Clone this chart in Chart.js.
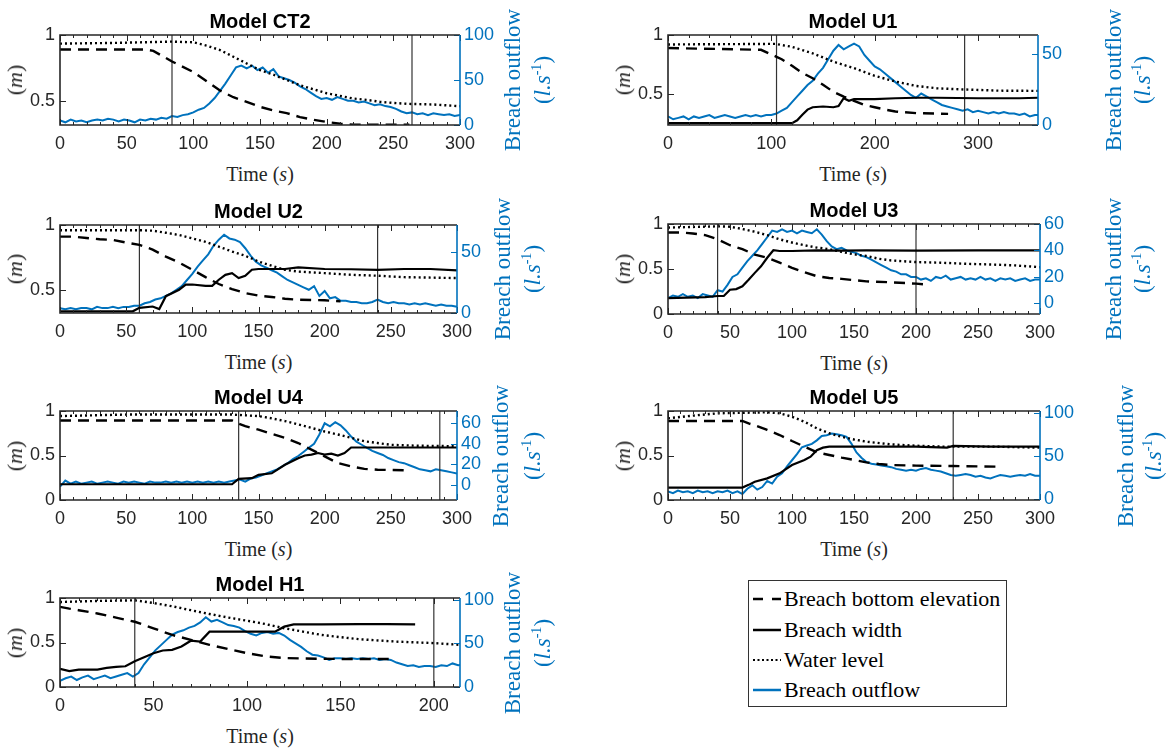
<!DOCTYPE html>
<html>
<head>
<meta charset="utf-8">
<script src="https://cdn.jsdelivr.net/npm/chart.js@4.4.1/dist/chart.umd.min.js"></script>
<style>
body { margin: 0; background: #fff; width: 1168px; height: 751px; position: relative; overflow: hidden; }
canvas { position: absolute; }
.lab { position: absolute; font-family: 'Liberation Serif', 'Times New Roman', serif; color: #262626;
       white-space: nowrap; line-height: 1; transform: translate(-50%, -50%); }
.rot { transform: translate(-50%, -50%) rotate(-90deg); }
.blue { color: #0072BD; }
#legend { position: absolute; left: 748px; top: 580px; width: 257px; height: 125px; border: 1.5px solid #333; }
#legend .row { position: absolute; left: 3px; height: 26px; display: flex; align-items: center;
               font-family: 'Liberation Serif', 'Times New Roman', serif; font-size: 22px; color: #000; white-space: nowrap; }
#legend svg { margin-right: 2px; }
</style>
</head>
<body>
<div id="legend"></div>
<script>
var BLUE = '#0072BD';
var INK = '#262626';
var TICKFONT = "'Liberation Sans', Arial, sans-serif";

// time bases of the outflow records
var t300 = [0,4,8,12,16,20,24,28,32,36,40,44,48,52,56,60,64,68,72,76,80,84,88,92,96,100,104,108,112,116,
    120,124,128,132,136,140,144,148,152,156,160,164,168,172,176,180,184,188,192,196,200,204,208,212,216,220,
    224,228,232,236,240,244,248,252,256,260,264,268,272,276,280,284,288,292,296,300];
var t360 = [0,5,10,15,20,25,30,35,40,45,50,55,60,65,70,75,80,85,90,95,100,105,110,115,120,125,130,135,140,145,
    150,155,160,165,170,175,180,185,190,195,200,205,210,215,220,225,230,235,240,245,250,255,260,265,270,275,
    280,285,290,295,300,305,310,315,320,325,330,335,340,345,350,355,360];
var t216 = [0,3,6,9,12,15,18,21,24,27,30,33,36,39,42,45,48,51,54,57,60,63,66,69,72,75,78,81,84,87,90,93,96,99,
    102,105,108,111,114,117,120,123,126,129,132,135,138,141,144,147,150,153,156,159,162,165,168,171,174,177,
    180,183,186,189,192,195,198,201,204,207,210,213,216];

// tick labels
var ticks300 = [0,50,100,150,200,250,300];
var ticks360 = [0,100,200,300];
var ticks216 = [0,50,100,150,200];
var ticksHi = [0.5,1];
var ticksFull = [0,0.5,1];
var flowTicks100 = [0,50,100];
var flowTicks50 = [0,50];
var flowTicks60 = [0,20,40,60];

var legendLabels = ['Breach bottom elevation', 'Breach width', 'Water level', 'Breach outflow'];

// Model CT2
var ct2DashT = [0,65,70,84,100,110,120,130,140,150,160,170,180,190,200,210,220,240,262];
var ct2Dash = [0.89,0.89,0.88,0.80,0.72,0.65,0.58,0.53,0.495,0.457,0.43,0.41,0.38,0.36,0.343,0.33,0.323,0.322,0.322];
var ct2DotT = [0,40,84,100,110,120,130,140,150,160,170,180,190,200,210,220,230,240,250,260,280,300];
var ct2Dot = [0.935,0.94,0.95,0.945,0.92,0.886,0.836,0.785,0.735,0.70,0.66,0.62,0.59,0.56,0.54,0.52,0.51,0.495,0.487,0.48,0.475,0.462];
var ct2Flow = [5,3,6,4,5,3,5,6,5,7, 6,4,6,5,3,6,5,7,6,8, 7,10,9,11,12,14,17,19,24,30,
    38,46,55,64,66,63,66,61,64,58, 62,54,52,50,47,43,40,36,32,29, 30,28,31,29,27,27,25,26,24,22,
    23,21,20,18,15,13,14,12,13,11, 13,12,11,12,10,11];
var ct2Events = [84, 264];

// Model U1
var u1DashT = [0,90,104,110,120,130,140,150,160,170,180,190,200,210,220,240,271];
var u1Dash = [0.89,0.875,0.82,0.795,0.74,0.68,0.635,0.58,0.52,0.48,0.444,0.41,0.39,0.37,0.354,0.34,0.334];
var u1WidthT = [0,120,125,130,135,140,150,160,165,170,175,180,200,220,240,260,300,340,358];
var u1Width = [0.255,0.255,0.28,0.326,0.37,0.39,0.396,0.39,0.40,0.466,0.444,0.458,0.458,0.466,0.47,0.47,0.466,0.466,0.47];
var u1DotT = [0,104,120,140,160,180,200,220,240,260,286,320,358];
var u1Dot = [0.92,0.925,0.90,0.845,0.775,0.72,0.655,0.607,0.57,0.55,0.54,0.53,0.528];
var u1Flow = [6,4,5,6,4,6,5,6,7,5, 6,7,6,5,6,7,6,7,6,7, 7,8,10,12,16,20,24,28,31,36,
    40,46,52,56,53,55,57,55,49,45, 41,39,36,33,30,27,24,21,19,22, 20,18,16,14,13,12,11,10,11,9,
    10,9,8,9,8,9,8,8,7,8, 6,7,7];
var u1Events = [105, 287];

// Model U2
var u2DashT = [0,10,20,30,40,50,60,70,80,90,100,110,120,130,140,150,160,170,180,200,212];
var u2Dash = [0.91,0.91,0.90,0.89,0.885,0.864,0.846,0.81,0.756,0.71,0.654,0.597,0.544,0.505,0.474,0.454,0.444,0.43,0.423,0.418,0.41];
var u2WidthT = [0,55,60,70,75,80,90,95,100,110,115,120,125,130,135,140,145,150,170,180,200,220,240,260,280,300];
var u2Width = [0.333,0.333,0.36,0.37,0.35,0.45,0.50,0.54,0.54,0.53,0.53,0.577,0.615,0.628,0.59,0.607,0.654,0.66,0.66,0.672,0.66,0.658,0.654,0.66,0.66,0.649];
var u2DotT = [0,60,70,80,90,100,110,120,130,140,150,160,170,180,200,220,240,260,300];
var u2Dot = [0.96,0.96,0.956,0.94,0.923,0.897,0.87,0.833,0.795,0.762,0.718,0.685,0.654,0.64,0.628,0.615,0.608,0.597,0.59];
var u2Flow = [4,3,4,3,4,4,3,5,4,4, 5,4,5,5,6,6,8,9,11,12, 14,16,19,22,27,32,38,43,48,55,
    60,64,61,60,58,53,47,42,39,37, 35,33,30,27,25,23,21,19,22,14, 18,12,13,10,10,9,9,8,8,9,
    11,9,8,9,8,8,7,8,7,8, 7,6,7,6,6,5];
var u2Events = [60, 240];

// Model U3
var u3DashT = [0,10,20,30,40,50,60,70,80,90,100,110,120,130,140,160,180,200,210];
var u3Dash = [0.906,0.906,0.895,0.876,0.83,0.764,0.72,0.66,0.625,0.57,0.513,0.464,0.42,0.40,0.39,0.363,0.352,0.337,0.326];
var u3WidthT = [0,30,40,45,50,55,60,65,70,75,80,85,90,100,120,140,160,200,250,300];
var u3Width = [0.176,0.187,0.2,0.2,0.27,0.277,0.307,0.38,0.457,0.53,0.625,0.708,0.70,0.70,0.708,0.705,0.708,0.705,0.708,0.708];
var u3DotT = [0,40,50,60,70,80,90,100,110,120,130,140,150,160,170,180,200,220,240,260,280,300];
var u3Dot = [0.96,0.974,0.97,0.944,0.914,0.876,0.83,0.794,0.764,0.738,0.72,0.69,0.663,0.644,0.614,0.595,0.577,0.57,0.558,0.55,0.54,0.52];
var u3Flow = [4,6,5,7,5,6,4,7,6,5, 10,9,14,20,22,27,32,36,40,45, 50,55,54,56,54,55,53,55,54,53,
    56,52,47,43,41,42,40,39,38,36, 35,33,31,29,27,25,24,22,22,20, 20,18,19,17,20,19,21,18,19,20,
    18,19,18,20,18,19,17,19,18,19, 17,18,19,17,18,18];
var u3Events = [40, 200];

// Model U4
var u4DashT = [0,130,135,140,150,160,170,180,190,200,210,220,230,240,265];
var u4Dash = [0.894,0.894,0.857,0.83,0.79,0.743,0.698,0.64,0.566,0.49,0.415,0.377,0.35,0.34,0.332];
var u4WidthT = [0,130,135,145,150,160,170,180,185,190,195,200,205,210,215,220,240,300];
var u4Width = [0.177,0.177,0.237,0.245,0.283,0.30,0.396,0.47,0.50,0.51,0.528,0.51,0.52,0.50,0.528,0.59,0.59,0.59];
var u4DotT = [0,50,130,150,160,170,180,190,200,210,220,230,240,250,270,300];
var u4Dot = [0.943,0.96,0.96,0.943,0.917,0.887,0.85,0.81,0.77,0.736,0.698,0.66,0.64,0.62,0.61,0.604];
var u4Flow = [-2,4,1,3,1,2,3,1,2,3, 2,1,3,2,3,2,1,3,2,2, 3,2,3,2,3,2,3,2,3,2,
    3,2,3,4,5,3,6,7,9,11, 13,15,18,21,25,28,32,36,40,49, 60,57,61,58,53,47,42,39,36,33,
    31,29,26,24,22,21,19,17,15,14, 13,15,14,13,12,11];
var u4Events = [135, 287];

// Model U5
var u5DashT = [0,60,65,70,80,90,100,110,120,130,140,150,160,170,180,200,230,265];
var u5Dash = [0.888,0.888,0.86,0.84,0.787,0.73,0.663,0.6,0.536,0.506,0.476,0.45,0.423,0.404,0.393,0.386,0.382,0.375];
var u5WidthT = [0,60,65,70,80,90,100,110,115,120,125,130,150,200,225,230,260,300];
var u5Width = [0.139,0.139,0.17,0.206,0.243,0.30,0.393,0.45,0.487,0.56,0.588,0.6,0.6,0.6,0.588,0.607,0.6,0.6];
var u5DotT = [0,20,40,60,80,90,100,110,120,130,140,150,160,180,200,220,240,260,300];
var u5Dot = [0.918,0.948,0.974,0.98,0.985,0.974,0.936,0.88,0.805,0.75,0.71,0.68,0.655,0.625,0.61,0.6,0.6,0.6,0.588];
var u5Flow = [9,7,10,8,9,7,10,8,9,7, 9,8,10,7,9,6,12,16,11,14, 21,18,26,30,38,45,52,60,62,64,
    68,73,74,76,75,74,72,64,54,48, 43,41,40,39,38,37,35,34,33,34, 33,35,36,34,33,32,30,28,27,28,
    29,28,26,27,25,24,26,28,27,26, 27,28,27,29,27,27];
var u5Events = [60, 230];

// Model H1
var h1DashT = [0,5,10,20,30,40,50,60,70,80,90,100,110,120,130,150,178];
var h1Dash = [0.90,0.88,0.863,0.826,0.78,0.733,0.66,0.585,0.53,0.474,0.426,0.38,0.344,0.326,0.32,0.315,0.315];
var h1WidthT = [0,5,10,20,25,30,35,40,50,55,60,65,70,75,80,90,100,115,120,125,140,160,175,190];
var h1Width = [0.204,0.178,0.196,0.196,0.215,0.226,0.233,0.29,0.38,0.41,0.418,0.455,0.52,0.51,0.622,0.622,0.622,0.622,0.678,0.704,0.704,0.707,0.707,0.704];
var h1DotT = [0,20,40,50,60,70,80,90,100,110,120,130,140,150,160,180,200,214];
var h1Dot = [0.955,0.967,0.974,0.944,0.907,0.863,0.82,0.78,0.745,0.707,0.66,0.622,0.585,0.56,0.537,0.51,0.493,0.474];
var h1Flow = [7,10,12,8,11,13,9,11,13,10, 12,14,16,12,16,26,34,42,48,54, 60,63,65,68,70,74,80,75,77,74,
    71,70,68,64,61,59,62,63,61,62, 59,54,50,46,41,37,36,34,31,33, 33,32,33,32,33,32,33,31,32,31,
    28,26,24,25,23,24,24,23,25,24, 27,25,26];
var h1Events = [40, 200];

// layout of each panel: plot box in page pixels, canvas column, axis limits
var panels = [
    { title: 'Model CT2', box: {l: 60, r: 460, t: 35, b: 125}, cvX: 0, cvW: 565, lab: [52, 82],
      xMax: 300, xTicks: ticks300, minorX: 10, yMin: 0.32, yTicks: ticksHi, y2Min: 0, y2Max: 100, y2Ticks: flowTicks100,
      dashT: ct2DashT, dash: ct2Dash, dotT: ct2DotT, dot: ct2Dot, flowT: t300, flow: ct2Flow, events: ct2Events },
    { title: 'Model U1', box: {l: 668, r: 1038, t: 35, b: 125}, cvX: 605, cvW: 563, lab: [75, 104],
      xMax: 358, xTicks: ticks360, minorX: 20, yMin: 0.24, yTicks: ticksHi, y2Min: 0, y2Max: 63, y2Ticks: flowTicks50,
      dashT: u1DashT, dash: u1Dash, widthT: u1WidthT, width: u1Width, dotT: u1DotT, dot: u1Dot, flowT: t360, flow: u1Flow, events: u1Events },
    { title: 'Model U2', box: {l: 60, r: 457, t: 225, b: 313}, cvX: 0, cvW: 565, lab: [45, 75],
      xMax: 300, xTicks: ticks300, minorX: 10, yMin: 0.32, yTicks: ticksHi, y2Min: 0, y2Max: 72, y2Ticks: flowTicks50,
      dashT: u2DashT, dash: u2Dash, widthT: u2WidthT, width: u2Width, dotT: u2DotT, dot: u2Dot, flowT: t300, flow: u2Flow, events: u2Events },
    { title: 'Model U3', box: {l: 668, r: 1040, t: 224, b: 314}, cvX: 605, cvW: 563, lab: [73, 102],
      xMax: 300, xTicks: ticks300, minorX: 10, yMin: 0, yTicks: ticksFull, y2Min: -8, y2Max: 60, y2Ticks: flowTicks60,
      dashT: u3DashT, dash: u3Dash, widthT: u3WidthT, width: u3Width, dotT: u3DotT, dot: u3Dot, flowT: t300, flow: u3Flow, events: u3Events },
    { title: 'Model U4', box: {l: 60, r: 457, t: 411, b: 500}, cvX: 0, cvW: 565, lab: [43, 75],
      xMax: 300, xTicks: ticks300, minorX: 10, yMin: 0, yTicks: ticksFull, y2Min: -15, y2Max: 72, y2Ticks: flowTicks60,
      dashT: u4DashT, dash: u4Dash, widthT: u4WidthT, width: u4Width, dotT: u4DotT, dot: u4Dot, flowT: t300, flow: u4Flow, events: u4Events },
    { title: 'Model U5', box: {l: 668, r: 1040, t: 411, b: 500}, cvX: 605, cvW: 563, lab: [85, 113],
      xMax: 300, xTicks: ticks300, minorX: 10, yMin: 0, yTicks: ticksFull, y2Min: -1, y2Max: 102, y2Ticks: flowTicks100,
      dashT: u5DashT, dash: u5Dash, widthT: u5WidthT, width: u5Width, dotT: u5DotT, dot: u5Dot, flowT: t300, flow: u5Flow, events: u5Events },
    { title: 'Model H1', box: {l: 60, r: 460, t: 598, b: 687}, cvX: 0, cvW: 565, lab: [52, 82],
      xMax: 214, xTicks: ticks216, minorX: 10, yMin: 0, yTicks: ticksFull, y2Min: 0, y2Max: 102, y2Ticks: flowTicks100,
      dashT: h1DashT, dash: h1Dash, widthT: h1WidthT, width: h1Width, dotT: h1DotT, dot: h1Dot, flowT: t216, flow: h1Flow, events: h1Events }
];

var TITLE_H = 29, XAXIS_H = 30;

function pts(xs, ys) {
    return xs.map(function (x, i) { return {x: x, y: ys[i]}; });
}

function setTicks(values) {
    return function (scale) { scale.ticks = values.map(function (v) { return {value: v}; }); };
}

function plain(v) { return '' + v; }

// box with inward ticks, like the original figure
var framePlugin = {
    id: 'frame',
    afterDatasetsDraw: function (chart, args, opts) {
        var a = chart.chartArea, ctx = chart.ctx;
        var sx = chart.scales.x, sy = chart.scales.y, sy2 = chart.scales.y2;
        function seg(x1, y1, x2, y2) { ctx.beginPath(); ctx.moveTo(x1, y1); ctx.lineTo(x2, y2); ctx.stroke(); }
        ctx.save();
        ctx.lineWidth = 1;
        ctx.strokeStyle = INK;
        for (var v = sx.min; v <= sx.max; v += opts.minorX) {
            var px = Math.round(sx.getPixelForValue(v)) + 0.5;
            seg(px, a.bottom, px, a.bottom - 3);
            seg(px, a.top, px, a.top + 3);
        }
        sx.ticks.forEach(function (t) {
            var px = Math.round(sx.getPixelForValue(t.value)) + 0.5;
            seg(px, a.bottom, px, a.bottom - 6);
            seg(px, a.top, px, a.top + 6);
        });
        sy.ticks.forEach(function (t) {
            var py = Math.round(sy.getPixelForValue(t.value)) + 0.5;
            seg(a.left, py, a.left + 6, py);
        });
        ctx.strokeStyle = BLUE;
        sy2.ticks.forEach(function (t) {
            var py = Math.round(sy2.getPixelForValue(t.value)) + 0.5;
            seg(a.right, py, a.right - 6, py);
        });
        ctx.lineWidth = 1.6;
        ctx.strokeStyle = INK;
        ctx.beginPath();
        ctx.moveTo(a.right, a.top); ctx.lineTo(a.left, a.top); ctx.lineTo(a.left, a.bottom); ctx.lineTo(a.right, a.bottom);
        ctx.stroke();
        ctx.strokeStyle = BLUE;
        seg(a.right, a.top, a.right, a.bottom);
        ctx.restore();
    }
};

function addLabel(html, x, y, size, cls) {
    var d = document.createElement('div');
    d.className = 'lab ' + (cls || '');
    d.style.left = x + 'px';
    d.style.top = y + 'px';
    d.style.fontSize = size + 'px';
    d.innerHTML = html;
    document.body.appendChild(d);
}

function drawPanel(p) {
    var b = p.box;
    var cv = document.createElement('canvas');
    var h = (b.b - b.t) + TITLE_H + XAXIS_H;
    cv.width = p.cvW;
    cv.height = h;
    cv.style.left = p.cvX + 'px';
    cv.style.top = (b.t - TITLE_H) + 'px';
    document.body.appendChild(cv);

    var leftW = b.l - p.cvX, rightW = p.cvX + p.cvW - b.r;
    var line = {pointRadius: 0, tension: 0, fill: false, yAxisID: 'y'};
    var sets = [];
    sets.push(Object.assign({}, line, {label: 'dash', data: pts(p.dashT, p.dash), borderColor: '#000', borderWidth: 2.4, borderDash: [11, 7]}));
    if (p.width) {
        sets.push(Object.assign({}, line, {label: 'width', data: pts(p.widthT, p.width), borderColor: '#000', borderWidth: 2.2}));
    }
    sets.push(Object.assign({}, line, {label: 'dot', data: pts(p.dotT, p.dot), borderColor: '#000', borderWidth: 2.4, borderDash: [2, 3]}));
    p.events.forEach(function (e) {
        sets.push(Object.assign({}, line, {label: 'event', data: [{x: e, y: p.yMin}, {x: e, y: 1}], borderColor: '#333', borderWidth: 1.2}));
    });
    sets.push(Object.assign({}, line, {label: 'flow', data: pts(p.flowT, p.flow), borderColor: BLUE, borderWidth: 2, yAxisID: 'y2'}));

    var tickFont = {family: TICKFONT, size: 18};
    new Chart(cv, {
        type: 'line',
        data: {datasets: sets},
        options: {
            responsive: false,
            animation: false,
            devicePixelRatio: 1,
            parsing: false,
            layout: {padding: 0},
            plugins: {
                legend: {display: false},
                tooltip: {enabled: false},
                title: {display: true, text: p.title, color: '#000', fullSize: false,
                        font: {family: "'Liberation Sans', Arial, sans-serif", size: 20, weight: 'bold', lineHeight: 1.2},
                        padding: {top: 4, bottom: 1}},
                frame: {minorX: p.minorX}
            },
            scales: {
                x: {type: 'linear', min: 0, max: p.xMax,
                    afterBuildTicks: setTicks(p.xTicks),
                    afterFit: function (s) { s.height = XAXIS_H; },
                    grid: {display: false, drawTicks: false}, border: {display: false},
                    ticks: {color: INK, padding: 8, autoSkip: false, maxRotation: 0, callback: plain, font: tickFont}},
                y: {position: 'left', min: p.yMin, max: 1,
                    afterBuildTicks: setTicks(p.yTicks),
                    afterFit: function (s) { s.width = leftW; },
                    grid: {display: false, drawTicks: false}, border: {display: false},
                    ticks: {color: INK, padding: 5, callback: plain, font: tickFont}},
                y2: {position: 'right', min: p.y2Min, max: p.y2Max,
                     afterBuildTicks: setTicks(p.y2Ticks),
                     afterFit: function (s) { s.width = rightW; },
                     grid: {display: false, drawTicks: false}, border: {display: false},
                     ticks: {color: BLUE, padding: 4, callback: plain, font: tickFont}}
            }
        },
        plugins: [framePlugin]
    });

    var cx = (b.l + b.r) / 2, cy = (b.t + b.b) / 2;
    addLabel('Time (<i>s</i>)', cx, b.b + 49, 20);
    addLabel('(<i>m</i>)', b.l - 45, cy, 22, 'rot');
    addLabel('Breach outflow', b.r + p.lab[0], cy, 23, 'rot blue');
    addLabel('(<i>l.s</i><sup style="font-size:14px">-1</sup>)', b.r + p.lab[1], cy, 23, 'rot blue');
}

panels.forEach(drawPanel);

// legend
var samples = [
    '<line x1="1" y1="4" x2="29" y2="4" stroke="#000" stroke-width="2.5" stroke-dasharray="10 9"/>',
    '<line x1="1" y1="4" x2="29" y2="4" stroke="#000" stroke-width="2.5"/>',
    '<line x1="1" y1="4" x2="29" y2="4" stroke="#000" stroke-width="2" stroke-dasharray="2 2.5"/>',
    '<line x1="1" y1="4" x2="29" y2="4" stroke="' + BLUE + '" stroke-width="2.5"/>'
];
var rowTops = [5, 36, 66, 96];
var legend = document.getElementById('legend');
legendLabels.forEach(function (txt, i) {
    var r = document.createElement('div');
    r.className = 'row';
    r.style.top = rowTops[i] + 'px';
    r.innerHTML = '<svg width="30" height="8">' + samples[i] + '</svg><span>' + txt + '</span>';
    legend.appendChild(r);
});
</script>
</body>
</html>
